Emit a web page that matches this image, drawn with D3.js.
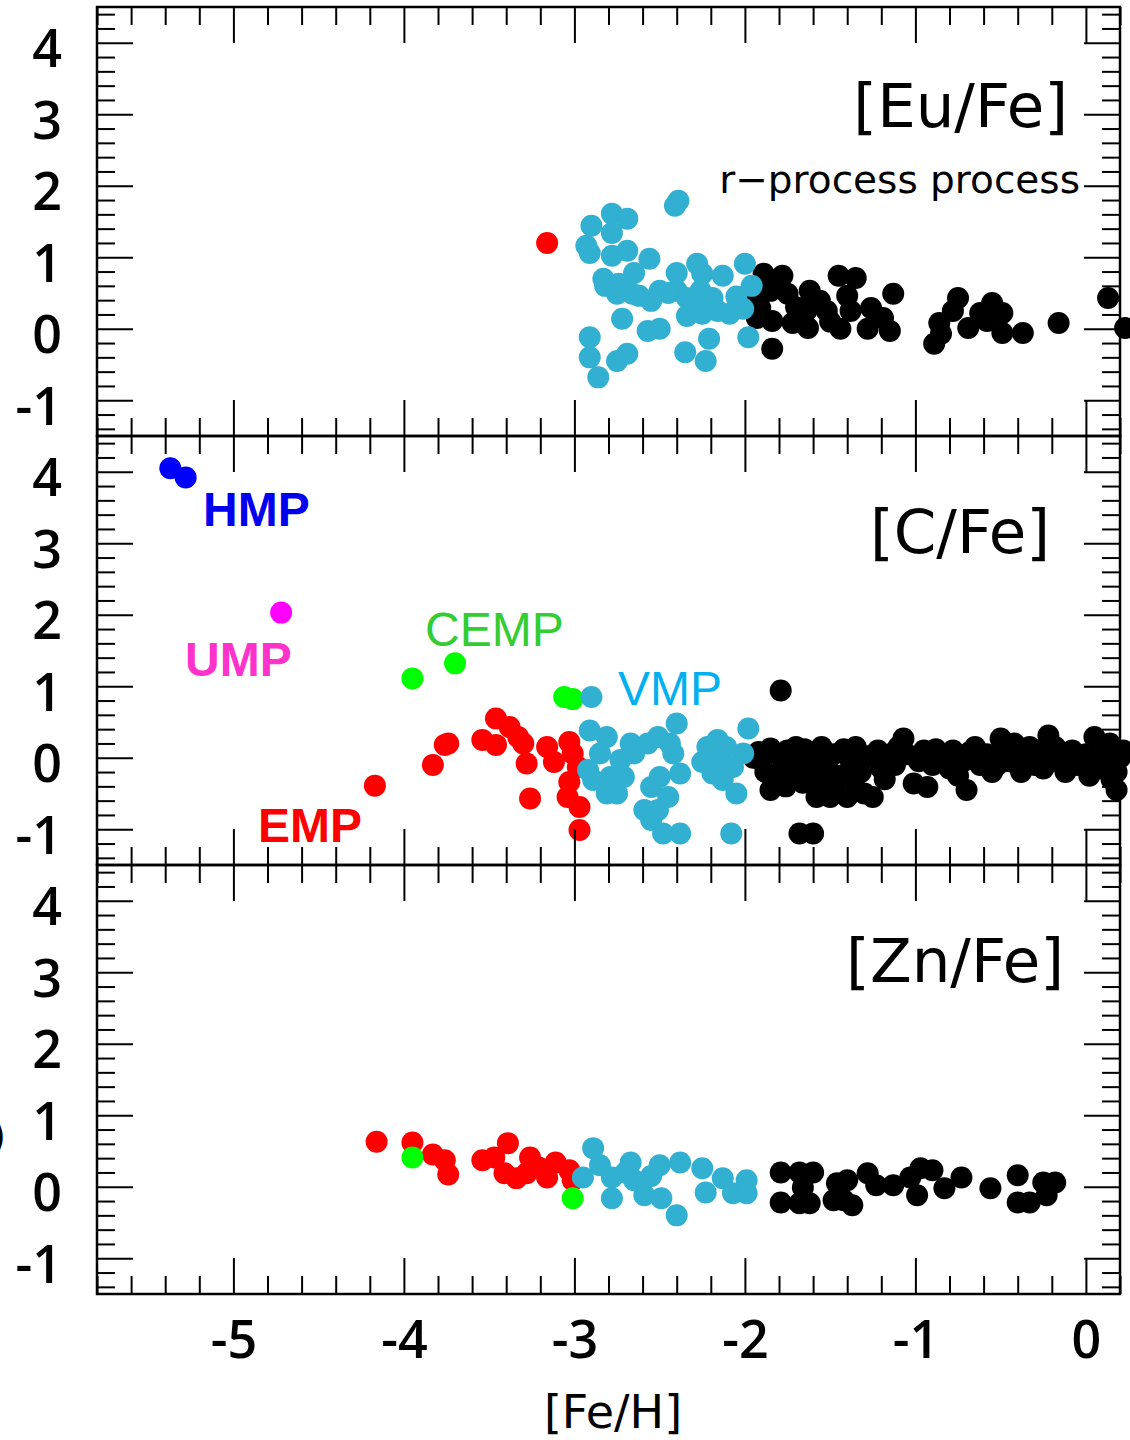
<!DOCTYPE html>
<html>
<head>
<meta charset="utf-8">
<script src="https://cdn.jsdelivr.net/npm/d3@7"></script>
<style>
  body { margin: 0; background: #fff; }
  svg { display: block; }
</style>
</head>
<body>
<svg id="chart" width="1130" height="1440"></svg>
<script>
// tick labels
const xTicks = [-5, -4, -3, -2, -1, 0];
const yTicks = [-1, 0, 1, 2, 3, 4];
const panelNames = ["[Eu/Fe]", "[C/Fe]", "[Zn/Fe]"];

// [Eu/Fe] vs [Fe/H]
const euRed = [[-3.16, 1.20]];
const euCyan = [
  [-2.39, 1.79], [-2.41, 1.72], [-2.78, 1.61], [-2.69, 1.54], [-2.90, 1.44], [-2.78, 1.34],
  [-2.93, 1.16], [-2.91, 1.06], [-2.78, 1.02], [-2.69, 1.09], [-2.56, 0.98], [-2.65, 0.78],
  [-2.83, 0.70], [-2.82, 0.60], [-2.74, 0.63], [-2.75, 0.49], [-2.62, 0.46], [-2.55, 0.39],
  [-2.50, 0.53], [-2.40, 0.78], [-2.28, 0.91], [-2.25, 0.77], [-2.13, 0.74], [-2.00, 0.91],
  [-1.96, 0.60], [-2.40, 0.53], [-2.34, 0.43], [-2.26, 0.53], [-2.19, 0.43], [-2.34, 0.18],
  [-2.25, 0.21], [-2.16, 0.25], [-2.09, 0.21], [-2.01, 0.28], [-2.72, 0.14], [-2.50, 0.00],
  [-2.91, -0.12], [-2.21, -0.14], [-1.98, -0.12], [-2.91, -0.40], [-2.75, -0.45], [-2.69, -0.35],
  [-2.35, -0.33], [-2.23, -0.45], [-2.86, -0.68], [-2.66, 0.49], [-2.57, -0.03], [-2.45, 0.50],
  [-2.30, 0.35], [-2.05, 0.45]
];
const euBlack = [
  [-1.89, 0.77], [-1.78, 0.74], [-1.85, 0.53], [-1.75, 0.49], [-1.91, 0.29], [-1.93, 0.15],
  [-1.84, 0.11], [-1.84, -0.28], [-1.72, 0.08], [-1.62, 0.53], [-1.56, 0.39], [-1.64, 0.25],
  [-1.63, 0.01], [-1.52, 0.25], [-1.45, 0.74], [-1.35, 0.71], [-1.40, 0.46], [-1.38, 0.25],
  [-1.44, 0.00], [-1.26, 0.29], [-1.19, 0.15], [-1.28, 0.00], [-1.15, -0.03], [-1.13, 0.49],
  [-0.86, 0.08], [-0.89, -0.21], [-0.85, -0.07], [-0.75, 0.43], [-0.78, 0.25], [-0.69, 0.01],
  [-0.62, 0.22], [-0.55, 0.36], [-0.49, 0.22], [-0.49, -0.06], [-0.58, 0.11], [-0.37, -0.06],
  [-0.16, 0.08], [0.13, 0.43], [0.23, 0.01], [-1.95, 0.40], [-1.70, 0.30], [-1.50, 0.10]
];

// [C/Fe] vs [Fe/H]
const cBlue = [[-5.37, 4.05], [-5.28, 3.92]];
const cMagenta = [[-4.72, 2.03]];
const cGreen = [[-3.95, 1.11], [-3.70, 1.32], [-3.06, 0.85], [-3.01, 0.82]];
const cRed = [
  [-4.17, -0.39], [-3.83, -0.10], [-3.76, 0.18], [-3.74, 0.20], [-3.54, 0.25], [-3.46, 0.18],
  [-3.46, 0.55], [-3.38, 0.43], [-3.33, 0.29], [-3.30, 0.20], [-3.28, -0.08], [-3.26, -0.57],
  [-3.16, 0.15], [-3.12, -0.06], [-3.03, 0.22], [-3.01, 0.06], [-3.03, -0.34], [-3.04, -0.55],
  [-2.97, -0.69], [-2.97, -1.01], [-2.98, -0.13]
];
const cCyan = [
  [-2.90, 0.85], [-2.91, 0.38], [-2.81, 0.29], [-2.85, 0.06], [-2.92, -0.17], [-2.89, -0.31],
  [-2.81, -0.50], [-2.75, -0.50], [-2.71, -0.27], [-2.67, 0.20], [-2.65, 0.06], [-2.57, 0.20],
  [-2.51, 0.29], [-2.44, 0.20], [-2.40, 0.48], [-2.42, 0.06], [-2.38, -0.22], [-2.50, -0.27],
  [-2.55, -0.41], [-2.45, -0.55], [-2.59, -0.73], [-2.51, -0.73], [-2.55, -0.87], [-2.48, -1.06],
  [-2.38, -1.06], [-2.08, -1.06], [-2.22, 0.15], [-2.25, -0.06], [-2.16, 0.25], [-2.11, 0.15],
  [-2.19, -0.22], [-2.13, -0.31], [-2.05, -0.50], [-1.98, 0.41], [-2.01, 0.06], [-2.07, -0.13],
  [-2.73, -0.03], [-2.79, -0.27], [-2.20, 0.05], [-2.15, -0.10]
];
const cBlack = [
  [-1.95, 0.00], [-1.90, -0.05], [-1.85, 0.13], [-1.85, -0.45], [-1.88, -0.20], [-1.80, 0.05],
  [-1.78, -0.15], [-1.75, 0.10], [-1.72, -0.30], [-1.70, 0.15], [-1.68, -0.05], [-1.65, 0.12],
  [-1.62, -0.20], [-1.60, 0.05], [-1.58, -0.55], [-1.55, 0.15], [-1.52, -0.10], [-1.50, -0.55],
  [-1.48, 0.05], [-1.45, -0.25], [-1.42, 0.12], [-1.40, -0.55], [-1.38, -0.05], [-1.35, 0.15],
  [-1.32, -0.20], [-1.30, -0.50], [-1.28, 0.02], [-1.25, -0.55], [-1.22, 0.10], [-1.20, -0.15],
  [-1.15, 0.05], [-1.12, -0.10], [-1.07, 0.27], [-1.05, 0.05], [-1.01, -0.36], [-0.98, -0.05],
  [-0.95, 0.10], [-0.93, -0.41], [-0.90, -0.10], [-0.85, 0.05], [-0.80, -0.15], [-0.78, 0.10],
  [-0.72, -0.05], [-0.70, -0.45], [-0.68, 0.08], [-0.62, -0.10], [-0.58, 0.05], [-0.55, -0.20],
  [-0.50, 0.27], [-0.48, 0.10], [-0.45, -0.05], [-0.42, 0.20], [-0.38, -0.20], [-0.35, 0.05],
  [-0.30, -0.10], [-0.28, 0.10], [-0.22, 0.31], [-0.20, -0.05], [-0.15, 0.08], [-0.12, -0.20],
  [-0.08, 0.10], [-0.05, -0.10], [0.00, 0.05], [0.02, -0.25], [0.05, 0.29], [0.08, 0.00],
  [0.10, -0.15], [0.12, 0.10], [0.15, -0.30], [0.18, -0.45], [0.20, 0.00], [0.22, 0.10],
  [-1.79, 0.94], [-1.68, -1.06], [-1.60, -1.06],
  [-1.92, 0.08], [-1.82, -0.35], [-1.76, -0.40], [-1.66, -0.35], [-1.57, -0.30], [-1.47, -0.35],
  [-1.36, -0.30], [-1.18, -0.30], [-1.10, 0.15], [-0.88, 0.12], [-0.75, -0.25], [-0.65, 0.15],
  [-0.52, -0.10], [-0.40, -0.10], [-0.33, 0.15], [-0.25, -0.15], [-0.18, 0.15], [-0.10, 0.00],
  [0.04, -0.05], [0.14, 0.20], [0.18, -0.20]
];

// [Zn/Fe] vs [Fe/H]
const znRed = [
  [-4.16, 0.63], [-3.95, 0.62], [-3.83, 0.45], [-3.76, 0.37], [-3.74, 0.17], [-3.54, 0.37],
  [-3.47, 0.41], [-3.39, 0.61], [-3.41, 0.19], [-3.34, 0.12], [-3.26, 0.41], [-3.28, 0.19],
  [-3.21, 0.27], [-3.16, 0.13], [-3.11, 0.34], [-3.03, 0.23], [-3.01, 0.09]
];
const znGreen = [[-3.95, 0.41], [-3.01, -0.16]];
const znCyan = [
  [-2.89, 0.54], [-2.95, 0.13], [-2.78, 0.13], [-2.78, -0.16], [-2.67, 0.34], [-2.65, 0.09],
  [-2.59, -0.12], [-2.50, 0.30], [-2.49, -0.16], [-2.38, 0.34], [-2.40, -0.40], [-2.25, 0.26],
  [-2.23, -0.08], [-2.13, 0.12], [-2.07, -0.09], [-1.99, 0.09], [-1.99, -0.09], [-2.85, 0.30],
  [-2.70, 0.20], [-2.55, 0.15]
];
const znBlack = [
  [-1.79, 0.20], [-1.79, -0.22], [-1.68, 0.20], [-1.60, 0.20], [-1.68, -0.23], [-1.62, -0.23],
  [-1.66, -0.01], [-1.46, 0.05], [-1.48, -0.19], [-1.40, 0.09], [-1.37, -0.26], [-1.42, -0.19],
  [-1.28, 0.19], [-1.23, 0.02], [-1.13, 0.02], [-1.03, 0.13], [-0.97, 0.26], [-0.90, 0.23],
  [-0.99, -0.12], [-0.83, -0.02], [-0.73, 0.13], [-0.56, -0.02], [-0.40, 0.16], [-0.40, -0.22],
  [-0.33, -0.22], [-0.25, 0.06], [-0.18, 0.06], [-0.23, -0.12]
];

const colBlack = "#000000", colRed = "#ff0000", colCyan = "#31b0d1",
      colGreen = "#00ff00", colBlue = "#0000ff", colMagenta = "#ff00ff";

const panels = [
  { name: panelNames[0], nameX: 1068, nameY: 127,
    sets: [[euBlack, colBlack], [euRed, colRed], [euCyan, colCyan]] },
  { name: panelNames[1], nameX: 1050, nameY: 553,
    sets: [[cBlack, colBlack], [cRed, colRed], [cGreen, colGreen], [cCyan, colCyan], [cBlue, colBlue], [cMagenta, colMagenta]] },
  { name: panelNames[2], nameX: 1064, nameY: 982,
    sets: [[znBlack, colBlack], [znRed, colRed], [znCyan, colCyan], [znGreen, colGreen]] }
];

const left = 97, right = 1120, top0 = 7, panelH = 429;
const svg = d3.select("#chart");
svg.append("rect").attr("width", 1130).attr("height", 1440).attr("fill", "#fff");

const x = d3.scaleLinear().domain([-5.8, 0.2]).range([left, right]);
const minorX = d3.range(-5.8, 0.21, 0.2).map(v => +v.toFixed(1)).filter(v => !Number.isInteger(v));
const minorY = d3.range(-1.4, 4.41, 0.2).map(v => +v.toFixed(1)).filter(v => !Number.isInteger(v));

panels.forEach((p, i) => {
    let top = top0 + i * panelH;
    let y = d3.scaleLinear().domain([-1.5, 4.5]).range([top + panelH, top]);
    let g = svg.append("g");

// points
    p.sets.forEach(([data, col]) => {
        g.append("g").selectAll("circle")
            .data(data).join("circle")
            .attr("cx", d => x(d[0]))
            .attr("cy", d => y(d[1]))
            .attr("r", 11)
            .attr("fill", col);
    });

// ticks on all four sides, pointing inward
    let axes = [
        [d3.axisLeft(y), `translate(${left},0)`, yTicks, minorY],
        [d3.axisRight(y), `translate(${right},0)`, yTicks, minorY],
        [d3.axisTop(x), `translate(0,${top})`, xTicks, minorX],
        [d3.axisBottom(x), `translate(0,${top + panelH})`, xTicks, minorX]
    ];
    axes.forEach(([ax, tr, major, minor]) => {
        let ga = g.append("g").attr("transform", tr)
            .call(ax.tickValues(major).tickSize(-36).tickFormat(""));
        ga.select(".domain").remove();
        let gm = g.append("g").attr("transform", tr)
            .call(ax.tickValues(minor).tickSize(-18).tickFormat(""));
        gm.select(".domain").remove();
    });
    g.selectAll(".tick line").attr("stroke", "#000").attr("stroke-width", 2);

// y labels
    let gl = g.append("g").attr("transform", `translate(${left},0)`)
        .call(d3.axisLeft(y).tickValues(yTicks).tickSize(0).tickPadding(35).tickFormat(d => String(d)));
    gl.select(".domain").remove();
    gl.selectAll("text")
        .attr("dy", "0.46em")
        .style("font-family", "'Open Sans', 'Noto Sans', sans-serif")
        .style("font-weight", 600)
        .style("font-size", "52px")
        .attr("fill", "#000");

// frame
    g.append("rect")
        .attr("x", left).attr("y", top)
        .attr("width", right - left).attr("height", panelH)
        .attr("fill", "none").attr("stroke", "#000").attr("stroke-width", 2.5);

// panel name
    g.append("text")
        .attr("x", p.nameX).attr("y", p.nameY)
        .attr("text-anchor", "end")
        .style("font-family", "'DejaVu Sans', sans-serif")
        .style("font-size", "61px")
        .text(p.name);
});

// x labels under the last panel
let gx = svg.append("g").attr("transform", `translate(0,${top0 + 3 * panelH})`)
    .call(d3.axisBottom(x).tickValues(xTicks).tickSize(0).tickPadding(27).tickFormat(d => String(d)));
gx.select(".domain").remove();
gx.selectAll("text")
    .style("font-family", "'Open Sans', 'Noto Sans', sans-serif")
    .style("font-weight", 600)
    .style("font-size", "52px")
    .attr("fill", "#000");

svg.append("text")
    .attr("x", 613).attr("y", 1428)
    .attr("text-anchor", "middle")
    .style("font-family", "'DejaVu Sans', sans-serif")
    .style("font-size", "46px")
    .text("[Fe/H]");

// edge of a cut-off label
svg.append("text")
    .attr("x", 6).attr("y", 1150)
    .attr("text-anchor", "end")
    .style("font-family", "'DejaVu Sans', sans-serif")
    .style("font-size", "40px")
    .text(")");

svg.append("text")
    .attr("x", 1080).attr("y", 193)
    .attr("text-anchor", "end")
    .style("font-family", "'DejaVu Sans', sans-serif")
    .style("font-size", "39px")
    .text("r\u2212process process");

// group labels
const groupLabels = [
    ["HMP", 203, 526, "#0000ee", 700],
    ["UMP", 185, 676, "#ff33cc", 700],
    ["CEMP", 425, 646, "#33cc33", 400],
    ["VMP", 618, 705, "#00b0f0", 400],
    ["EMP", 258, 842, "#ff0000", 700]
];
groupLabels.forEach(([t, lx, ly, col, w]) => {
    svg.append("text")
        .attr("x", lx).attr("y", ly)
        .attr("fill", col)
        .style("font-family", "'Liberation Sans', Arial, sans-serif")
        .style("font-weight", w)
        .style("font-size", "48px")
        .text(t);
});
</script>
</body>
</html>
